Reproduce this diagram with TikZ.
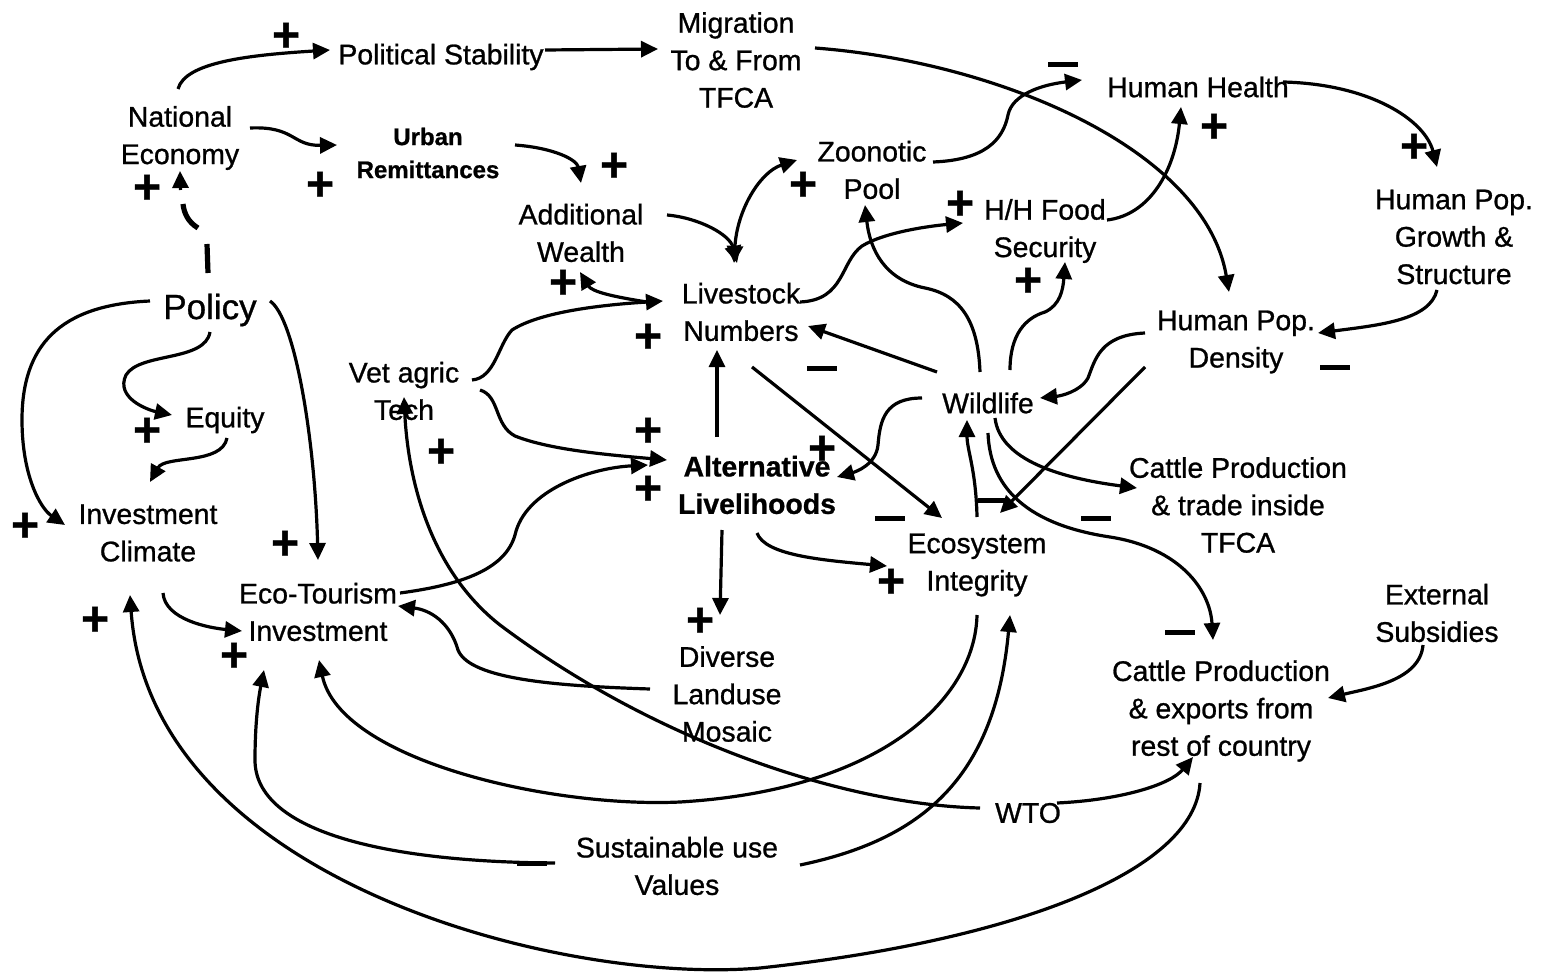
\documentclass[tikz,border=0pt]{standalone}
\usepackage{fontspec}
\setmainfont{Liberation Sans}[RawFeature={embolden=0.9}]
\usetikzlibrary{arrows.meta}
\begin{document}
\begin{tikzpicture}[x=0.5pt,y=-0.5pt,
  lbl/.style={font=\fontsize{14.2pt}{18.7pt}\selectfont, align=center, inner sep=0pt},
  con/.style={line width=1.6pt, -{Triangle[length=8.5pt,width=8pt]}},
  dcon/.style={line width=1.6pt, {Triangle[length=8.5pt,width=8pt]}-{Triangle[length=8.5pt,width=8pt]}},
  brk/.style={line width=2.6pt},
  pls/.style={font=\fontsize{24pt}{24pt}\bfseries\selectfont, inner sep=0pt},
  mns/.style={inner sep=0pt}]
\useasboundingbox (0,0) rectangle (1541,973);
% nodes
\node[lbl] (natEco) at (180,138) {National\\Economy};
\node[lbl] (polStab) at (441,57) {Political Stability};
\node[lbl] (migr) at (736,60) {Migration\\To \& From\\TFCA};
\node[lbl,font=\fontsize{12pt}{16.5pt}\bfseries\selectfont] (urban) at (428,153) {Urban\\Remittances};
\node[lbl] (hhealth) at (1198,87) {Human Health};
\node[lbl] (zoo) at (872,170) {Zoonotic\\Pool};
\node[lbl] (addW) at (581,233) {Additional\\Wealth};
\node[lbl] (hhfood) at (1045,231) {H/H Food\\Security};
\node[lbl] (hpg) at (1454,237) {Human Pop.\\Growth \&\\Structure};
\node[lbl] (live) at (741,312) {Livestock\\Numbers};
\node[lbl,font=\fontsize{17.5pt}{21pt}\selectfont] (policy) at (210,310) {Policy};
\node[lbl] (hpd) at (1236,342) {Human Pop.\\Density};
\node[lbl] (vet) at (404,391) {Vet agric\\Tech};
\node[lbl] (wild) at (988,403) {Wildlife};
\node[lbl] (equity) at (225,420) {Equity};
\node[lbl,font=\fontsize{14.2pt}{18.7pt}\bfseries\selectfont] (alt) at (757,485) {Alternative\\Livelihoods};
\node[lbl] (invc) at (148,533) {Investment\\Climate};
\node[lbl] (ctrade) at (1238,505) {Cattle Production\\\& trade inside\\TFCA};
\node[lbl] (eco) at (977,565) {Ecosystem\\Integrity};
\node[lbl] (etour) at (318,612) {Eco-Tourism\\Investment};
\node[lbl] (ext) at (1437,613) {External\\Subsidies};
\node[lbl] (div) at (727,694) {Diverse\\Landuse\\Mosaic};
\node[lbl] (cexp) at (1221,711) {Cattle Production\\\& exports from\\rest of country};
\node[lbl] (wto) at (1028,813) {WTO};
\node[lbl] (sust) at (677,866) {Sustainable use\\Values};
% connectors
\draw[con] (178,89) .. controls (185,62) and (250,55) .. (330,50);
\draw[con] (545,50) -- (658,49);
\draw[con] (815,48) .. controls (1000,62) and (1205,150) .. (1229,292);
\draw[con] (250,128) .. controls (295,126) and (292,146) .. (337,145);
\draw[con] (515,145) .. controls (555,148) and (577,160) .. (581,183);
% policy -> national economy (broken)
\draw[brk] (208,273) -- (207,244);
\draw[brk] (198,228) .. controls (188,222) and (184,213) .. (183,204);
\draw[con] (180.5,190) -- (180,171);
\draw[con] (210,332) .. controls (205,362) and (140,352) .. (126,375) .. controls (115,398) and (148,410) .. (172,415);
\draw[con] (227,438) .. controls (222,465) and (165,455) .. (150,482);
\draw[con] (150,301) .. controls (60,305) and (22,345) .. (22,420) .. controls (22,475) and (40,508) .. (65,525);
\draw[con] (270,301) .. controls (295,318) and (315,440) .. (318,560);
\draw[con] (163,593) .. controls (165,620) and (210,628) .. (242,631);
\draw[con] (400,593) .. controls (460,585) and (505,570) .. (515,535) .. controls (525,490) and (590,468) .. (648,465);
\draw[con] (480,390) .. controls (500,396) and (494,425) .. (515,436) .. controls (550,450) and (610,455) .. (667,460);
\draw[con] (472,380) .. controls (495,378) and (498,345) .. (512,330) .. controls (540,312) and (600,305) .. (663,301);
\draw[con] (647,302) .. controls (615,297) and (592,292) .. (580,272);
\draw[con] (667,215) .. controls (700,218) and (730,235) .. (737,263);
\draw[dcon] (734,263) .. controls (737,210) and (760,172) .. (797,160);
\draw[con] (800,302) .. controls (845,300) and (840,262) .. (862,246) .. controls (885,232) and (930,226) .. (963,223);
\draw[con] (980,372) .. controls (978,320) and (960,295) .. (925,288) .. controls (885,280) and (870,250) .. (865,205);
\draw[con] (1010,370) .. controls (1010,335) and (1025,318) .. (1045,312) .. controls (1060,305) and (1063,290) .. (1065,262);
\draw[con] (1107,220) .. controls (1150,215) and (1175,170) .. (1181,107);
\draw[con] (933,162) .. controls (985,160) and (1003,140) .. (1008,115) .. controls (1012,95) and (1040,85) .. (1082,80);
\draw[con] (1283,82) .. controls (1370,84) and (1425,120) .. (1437,167);
\draw[con] (1437,290) .. controls (1430,320) and (1380,325) .. (1318,333);
\draw[con] (1145,333) .. controls (1100,335) and (1095,360) .. (1088,378) .. controls (1080,392) and (1060,396) .. (1040,398);
\draw[con] (1145,367) -- (1000,513);
\draw[con] (937,372) -- (808,326);
\draw[con] (752,367) -- (942,518);
\draw[con] (922,398) .. controls (885,398) and (880,420) .. (878,445) .. controls (876,465) and (855,472) .. (837,477);
\draw[con] (717,437) -- (717,350);
\draw[con] (722,530) -- (720,615);
\draw[con] (757,533) .. controls (765,555) and (820,560) .. (887,566);
\draw[con] (977,517) .. controls (976,470) and (967,450) .. (967,420);
\draw[con] (995,418) .. controls (1000,460) and (1060,478) .. (1137,488);
\draw[con] (988,433) .. controls (990,490) and (1030,525) .. (1110,537) .. controls (1180,548) and (1210,590) .. (1213,640);
\draw[con] (1423,645) .. controls (1420,680) and (1370,688) .. (1328,698);
\draw[con] (1057,803) .. controls (1120,800) and (1170,785) .. (1193,757);
\draw[con] (980,808) .. controls (850,805) and (660,745) .. (500,625) .. controls (430,570) and (408,480) .. (404,397);
\draw[con] (650,689) .. controls (560,686) and (470,680) .. (458,650) .. controls (450,622) and (430,610) .. (398,606);
\draw[con] (977,615) .. controls (975,700) and (880,790) .. (680,802) .. controls (550,808) and (340,760) .. (319,660);
\draw[con] (555,863) .. controls (380,862) and (255,830) .. (255,760) .. controls (255,720) and (259,695) .. (264,670);
\draw[con] (800,865) .. controls (920,840) and (995,780) .. (1010,615);
\draw[con] (1200,783) .. controls (1195,870) and (1020,940) .. (760,968) .. controls (560,985) and (150,880) .. (130,595);
% signs
\foreach \p in {(286,37),(147,189),(320,186),(614,167),(803,186),(960,205),(563,284),(1214,128),(1414,148),(1028,282),(648,338),(147,432),(441,453),(648,432),(822,450),(648,490),(891,583),(25,527),(285,545),(95,621),(234,657),(700,622)}
  \node[pls] at \p {+};
\foreach \p in {(1063,65),(822,368),(1335,367),(890,518),(1096,518),(993,500),(1180,632),(532,863)}
  \node[mns] at \p {\rule{15pt}{2.5pt}};
\end{tikzpicture}
\end{document}
